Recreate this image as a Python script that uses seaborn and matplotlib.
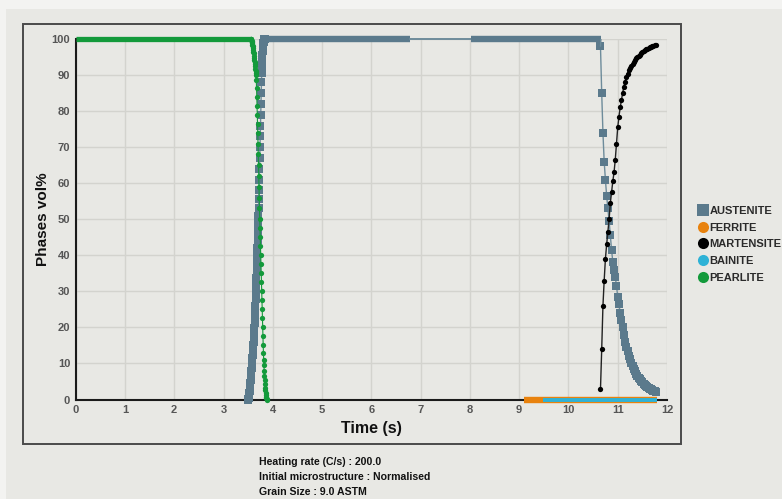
import numpy as np
import pandas as pd
import matplotlib
matplotlib.use("Agg")
import matplotlib.pyplot as plt
import seaborn as sns
from matplotlib import font_manager
from matplotlib.lines import Line2D
from matplotlib.patches import Rectangle

# ---------------- data ----------------
STEP_HEAT = 0.005          # simulation step during heating (s)
STEP_COOL = 0.025          # simulation step during cooling (s)

# pearlite: hold at 100 then dissolution
PEARLITE_HOLD_T = [0.0, 3.55]
PEARLITE_HOLD_V = [100, 100]
PEARLITE_DROP_T0 = 3.55
PEARLITE_DROP_V = [100, 100, 100, 99.8, 99.5, 99.2, 98.8, 98.4, 98.0, 97.5,
                   97.0, 96.5, 96.0, 95.4, 94.8, 94.2, 93.6, 93.0, 92.4, 91.8,
                   91.2, 90.6, 90.0, 88.5, 86.5, 84.0, 81.5, 79.0, 76.5, 74.0,
                   71.0, 68.0, 65.0, 62.0, 59.0, 56.0, 53.0, 50.0, 47.5, 45.0,
                   42.5, 40.0, 37.5, 35.0, 32.5, 30.0, 27.5, 25.0, 22.5, 20.0,
                   17.5, 15.0, 13.0, 11.0, 9.5, 8.0, 6.5, 5.3, 4.2, 3.3,
                   2.5, 1.8, 1.2, 0.7, 0.3, 0.1, 0.0]

# austenite: formation, hold, cooling decomposition
AUSTENITE_RISE_T0 = 3.50
AUSTENITE_RISE_V = [0.0, 0.2, 0.5, 0.8, 1.2, 1.7, 2.3, 3.0, 3.7, 4.5,
                    5.3, 6.1, 7.0, 7.9, 8.8, 9.7, 10.6, 11.5, 12.3, 13.1,
                    14.0, 15.0, 16.0, 17.2, 18.5, 19.8, 21.2, 22.7, 24.3, 26.0,
                    27.8, 29.7, 31.6, 33.6, 35.6, 37.7, 39.8, 42.0, 44.2, 46.4,
                    48.6, 50.8, 53.0, 55.5, 58.0, 61.0, 64.0, 67.0, 70.0, 73.0,
                    76.0, 79.0, 82.0, 85.0, 88.0, 90.5, 92.5, 94.2, 95.6, 96.7,
                    97.6, 98.3, 98.9, 99.3, 99.6, 99.8, 99.9, 100.0]
AUSTENITE_BAND1_T = [3.835, 6.78]
AUSTENITE_LINK_T = [6.78, 8.03]
AUSTENITE_BAND2_T = [8.03, 10.66]
AUSTENITE_HIGH_V = [100, 100]
COOL_T0 = 10.65
AUSTENITE_COOL_V = [98, 85, 74, 66, 61, 56.5, 53, 49.5, 45.5, 41.5,
                    38.2, 36, 34, 31.5, 28.5, 26.5, 24, 22, 20, 18,
                    16, 14.6, 13.4, 12.2, 11.1, 10.1, 9.3, 8.5, 7.8, 7.2,
                    6.6, 6.1, 5.6, 5.1, 4.8, 4.4, 4.0, 3.7, 3.4, 3.2,
                    3.0, 2.8, 2.6, 2.4, 2.3, 2.2]

# martensite during cooling
MARTENSITE_V = [2.8, 14, 26, 33, 39, 43, 46.5, 50, 54.5, 57.5,
                60.5, 63, 66.5, 71, 75.5, 78.5, 81, 83, 85, 86.8,
                88.2, 89.4, 90.4, 91.3, 92, 92.6, 93.2, 93.7, 94.2, 94.6,
                95, 95.4, 95.7, 96, 96.3, 96.6, 96.9, 97.1, 97.3, 97.5,
                97.7, 97.8, 98.0, 98.1, 98.2, 98.3]

# ferrite and bainite stay at zero
FERRITE_T = [9.10, 11.80]
FERRITE_V = [0, 0]
BAINITE_T = [9.49, 11.80]
BAINITE_V = [0, 0]

LABELS = ["AUSTENITE", "FERRITE", "MARTENSITE", "BAINITE", "PEARLITE"]
COLORS = {"AUSTENITE": "#5b7a8c", "FERRITE": "#e8820e", "MARTENSITE": "#000000",
          "BAINITE": "#2eb2d6", "PEARLITE": "#139a3b"}
X_TICKS = list(range(0, 13))
Y_TICKS = list(range(0, 101, 10))
INFO = ["Heating rate (C/s) : 200.0",
        "Initial microstructure : Normalised",
        "Grain Size : 9.0 ASTM"]

# ---------------- style ----------------
sns.set_theme(style="white")
names = {f.name for f in font_manager.fontManager.ttflist}
main_font = "Liberation Sans Narrow" if "Liberation Sans Narrow" in names else "Liberation Sans"
plt.rcParams["font.family"] = [main_font, "DejaVu Sans"]

BG = "#e8e8e4"
fig = plt.figure(figsize=(7.82, 4.99), dpi=100, facecolor="#f3f3f1")
fig.patches.append(Rectangle((6 / 782, 0), 1, 1 - 9 / 499, transform=fig.transFigure,
                             facecolor=BG, edgecolor="none", zorder=-10))
fig.patches.append(Rectangle((23 / 782, (499 - 444) / 499), (681 - 23) / 782, (444 - 24) / 499,
                             transform=fig.transFigure, fill=False,
                             edgecolor="#4a4a4a", linewidth=1.4, zorder=-5))

ax = fig.add_axes([75.7 / 782, 99.5 / 499, (667 - 75.7) / 782, (399.5 - 39) / 499])
ax.set_facecolor("none")

# ---------------- build frames ----------------
aus_rise_t = np.round(AUSTENITE_RISE_T0 + STEP_HEAT * np.arange(len(AUSTENITE_RISE_V)), 3)
pea_drop_t = np.round(PEARLITE_DROP_T0 + STEP_HEAT * np.arange(len(PEARLITE_DROP_V)), 3)
cool_t = np.round(COOL_T0 + STEP_COOL * np.arange(len(AUSTENITE_COOL_V)), 3)

df_aus_rise = pd.DataFrame({"t": aus_rise_t, "v": AUSTENITE_RISE_V})
df_aus_cool = pd.DataFrame({"t": cool_t, "v": AUSTENITE_COOL_V})
df_mar = pd.DataFrame({"t": cool_t, "v": MARTENSITE_V})
df_pea = pd.DataFrame({"t": pea_drop_t, "v": PEARLITE_DROP_V})

# ---------------- draw ----------------
ca = COLORS["AUSTENITE"]
# austenite
ax.plot(AUSTENITE_BAND1_T, AUSTENITE_HIGH_V, color=ca, lw=4.6, solid_capstyle="butt", clip_on=False, zorder=3)
ax.plot(AUSTENITE_LINK_T, AUSTENITE_HIGH_V, color="#6e8c9b", lw=1.4, clip_on=False, zorder=3)
ax.plot(AUSTENITE_BAND2_T, AUSTENITE_HIGH_V, color=ca, lw=4.6, solid_capstyle="butt", clip_on=False, zorder=3)
for d in (df_aus_rise, df_aus_cool):
    sns.lineplot(data=d, x="t", y="v", ax=ax, sort=False, estimator=None, color="#6e8c9b",
                 lw=1.0, marker="s", markersize=5.2, markerfacecolor=ca, markeredgewidth=0,
                 clip_on=False, zorder=3)
ax.plot([AUSTENITE_BAND2_T[1], cool_t[0]], [AUSTENITE_HIGH_V[1], AUSTENITE_COOL_V[0]],
        color="#6e8c9b", lw=1.0, zorder=3)
# ferrite
ax.plot(FERRITE_T, FERRITE_V, color=COLORS["FERRITE"], lw=4.6, solid_capstyle="butt", clip_on=False, zorder=4)
# martensite
sns.lineplot(data=df_mar, x="t", y="v", ax=ax, sort=False, estimator=None, color="#222222",
             lw=1.0, marker="o", markersize=3.8, markerfacecolor="#000000", markeredgewidth=0,
             clip_on=False, zorder=5)
# bainite
ax.plot(BAINITE_T, BAINITE_V, color=COLORS["BAINITE"], lw=2.8, solid_capstyle="butt", clip_on=False, zorder=6)
# pearlite
cp = COLORS["PEARLITE"]
ax.plot(PEARLITE_HOLD_T, PEARLITE_HOLD_V, color=cp, lw=3.8, solid_capstyle="butt", clip_on=False, zorder=7)
sns.lineplot(data=df_pea, x="t", y="v", ax=ax, sort=False, estimator=None, color=cp,
             lw=0.8, marker="o", markersize=3.8, markerfacecolor=cp, markeredgewidth=0,
             clip_on=False, zorder=7)

# ---------------- axes ----------------
ax.set_xlim(0, 12)
ax.set_ylim(0, 100)
ax.set_xticks(X_TICKS)
ax.set_yticks(Y_TICKS)
ax.set_xticks(np.arange(0.5, 12, 1.0), minor=True)
ax.set_yticks(np.arange(5, 100, 10), minor=True)
ax.set_xticklabels([str(v) for v in X_TICKS])
ax.set_yticklabels([str(v) for v in Y_TICKS])
ax.grid(True, which="major", color="#d3d3ce", lw=1.0, zorder=0)
ax.set_axisbelow(True)
for s in ("top", "right"):
    ax.spines[s].set_visible(False)
for s in ("left", "bottom"):
    ax.spines[s].set_color("#1a1a1a")
    ax.spines[s].set_linewidth(1.5)
    ax.spines[s].set_zorder(2)
ax.tick_params(which="both", direction="inout", length=4, width=1.2, color="#1a1a1a",
               labelsize=8, labelcolor="#555555", pad=2)
ax.tick_params(which="minor", length=3)
for lab in ax.get_xticklabels() + ax.get_yticklabels():
    lab.set_fontweight("bold")

ax.set_xlabel("Time (s)", fontsize=11.5, fontweight="bold", color="#111111", labelpad=4)
ax.set_ylabel("Phases vol%", fontsize=11, fontweight="bold", color="#111111", labelpad=1)

# ---------------- legend ----------------
handles = []
for lab in LABELS:
    mk = "s" if lab == "AUSTENITE" else "o"
    handles.append(Line2D([], [], linestyle="None", marker=mk, markersize=8,
                          markerfacecolor=COLORS[lab], markeredgewidth=0))
fig.legend(handles, LABELS, loc="upper left", bbox_to_anchor=(698 / 782, 1 - 206 / 499),
           frameon=False, handlelength=0.9, handletextpad=0.15, labelspacing=0.6,
           borderpad=0, borderaxespad=0, prop={"weight": "bold", "size": 8},
           labelcolor="#2a2a2a")

# ---------------- info text ----------------
for i, line in enumerate(INFO):
    fig.text(259 / 782, 1 - (462 + 15 * i) / 499, line, ha="left", va="center",
             fontsize=7.6, fontweight="bold", color="#111111")

fig.savefig("out.png", dpi=100, facecolor=fig.get_facecolor())
